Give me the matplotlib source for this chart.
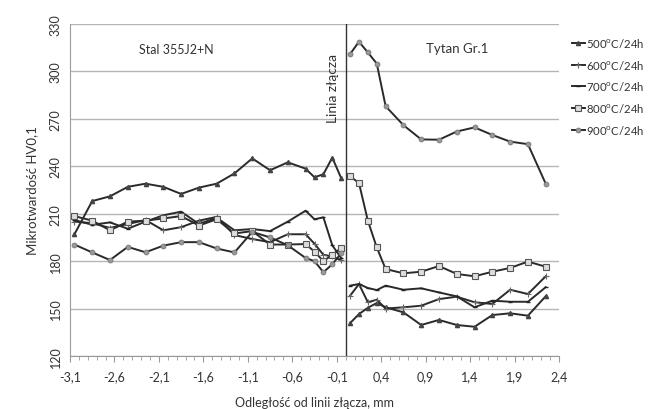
import matplotlib
matplotlib.use("Agg")
import matplotlib.pyplot as plt
from matplotlib.ticker import MultipleLocator
import numpy as np

plt.rcParams["font.family"] = ["Lato", "DejaVu Sans"]

# ── Data ──
x_steel = [-3.05, -2.85, -2.65, -2.45, -2.25, -2.05, -1.85, -1.65, -1.45,
           -1.25, -1.05, -0.85, -0.65, -0.45, -0.35, -0.25, -0.15, -0.05]
x_ti = [0.05, 0.15, 0.25, 0.35, 0.45, 0.65, 0.85, 1.05, 1.25, 1.45,
        1.65, 1.85, 2.05, 2.25]

steel_500 = [197, 218, 221, 227, 229, 227, 222.5, 226.5, 229, 235.5,
             245, 237.5, 242.5, 238.5, 233, 235, 245.5, 232.5]
steel_600 = [205, 204, 201, 203.5, 206, 199.5, 201.5, 205.6, 208, 196.5,
             194, 192, 197, 197, 191, 184, 183, 180.5]
steel_700 = [206, 203, 204.5, 200.5, 205, 209, 211.3, 203.5, 207.5, 199.5,
             200.3, 199, 205, 211.9, 206.5, 207.7, 190, 182]
steel_800 = [208.5, 205.6, 199.5, 205, 205.6, 207, 208.5, 202.5, 206.5, 197.5,
             199, 190.5, 190.5, 190.8, 186, 180, 184, 188.3]
steel_900 = [190.5, 185.5, 180.7, 189, 185.6, 189.8, 192, 192, 188, 185.5,
             198.5, 195, 190, 182, 180, 173, 178, 185]

ti_500 = [140.8, 146.5, 150.5, 153.5, 150.8, 147.6, 139.6, 142.8, 139.6,
          138.5, 145.9, 147, 145.5, 157.8]
ti_600 = [158.1, 165.5, 154, 155.6, 150, 150.8, 151.8, 156, 157.5, 154,
          152.9, 161.9, 159.2, 170.4]
ti_700 = [164.5, 165.5, 163, 161.7, 164.5, 161.9, 162.8, 160.2, 157.7,
          150.8, 155, 154.3, 154.3, 163.5]
ti_800 = [233.7, 229.4, 205.6, 188.7, 175, 172.3, 173.3, 176.9, 171.9,
          170.4, 173.3, 175.7, 179.7, 176.5]
ti_900 = [311, 318.8, 312, 305, 278, 266, 257, 256.8, 262, 264.6,
          259.8, 255.6, 254, 229]

labels = ["500", "600", "700", "800", "900"]
steel = [steel_500, steel_600, steel_700, steel_800, steel_900]
ti = [ti_500, ti_600, ti_700, ti_800, ti_900]

x_all = x_steel + [np.nan] + x_ti

styles = [
    dict(marker="^", ms=3, mfc="#444444", mec="#444444"),
    dict(marker="+", ms=4, mew=0.8, mec="#666666"),
    dict(marker="_", ms=3, mec="#222222"),
    dict(marker="s", ms=4, mfc="#dddddd", mec="#555555", mew=0.8),
    dict(marker="o", ms=3.5, mfc="#999999", mec="#777777", mew=0.6),
]

fig = plt.figure(figsize=(6.48, 4.10), dpi=100)
ax = fig.add_axes([0.108, 0.1293, 0.7547, 0.8097])

for lab, s_vals, t_vals, st in zip(labels, steel, ti, styles):
    y_all = s_vals + [np.nan] + t_vals
    ax.plot(x_all, y_all, color="#2a2a2a", lw=1.4,
            label=f"{lab}$^{{\\mathregular{{o}}}}$C/24h", **st)

ax.set_xlim(-3.1, 2.4)
ax.set_ylim(120, 330)
ax.set_yticks(np.arange(120, 331, 30))
ax.set_xticks(np.arange(-3.1, 2.41, 0.5))
ax.set_xticklabels([f"{v:.1f}".replace(".", ",").replace("-0,0", "0,0")
                    for v in np.arange(-3.1, 2.41, 0.5)])
ax.xaxis.set_minor_locator(MultipleLocator(0.1))
ax.grid(axis="y", color="#b5b5b5", lw=1)
ax.set_axisbelow(True)

for side in ["top", "right"]:
    ax.spines[side].set_visible(False)
for side in ["left", "bottom"]:
    ax.spines[side].set_color("#9a9a9a")
ax.tick_params(axis="x", which="both", colors="#9a9a9a", labelcolor="#333333",
               labelsize=9, direction="out", pad=6)
ax.tick_params(axis="x", which="major", length=4)
ax.tick_params(axis="x", which="minor", length=3)
ax.tick_params(axis="y", length=0, labelsize=9, labelcolor="#333333",
               labelrotation=90, pad=6)
for t in ax.get_yticklabels():
    t.set_verticalalignment("center")

# junction line
ax.axvline(0, color="#333333", lw=1)
ax.text(-0.07, 290, "Linia złącza", rotation=90, ha="right", va="center",
        fontsize=10, color="#333333")
ax.text(-1.9, 314, "Stal 355J2+N", ha="center", va="center", fontsize=9,
        color="#333333")
ax.text(1.26, 315, "Tytan Gr.1", ha="center", va="center", fontsize=9.5,
        color="#333333")

ax.set_ylabel("Mikrotwardość HV0,1", fontsize=9.5, color="#333333", labelpad=8)
ax.set_xlabel("Odległość od linii złącza, mm", fontsize=9, color="#333333",
              labelpad=10)

fig.legend(loc="upper left", bbox_to_anchor=(0.876, 0.92), frameon=False,
           handlelength=1.1, handletextpad=0.15, labelspacing=0.75,
           borderaxespad=0, fontsize=8.2, labelcolor="#333333")

fig.savefig("out.png", dpi=100)
